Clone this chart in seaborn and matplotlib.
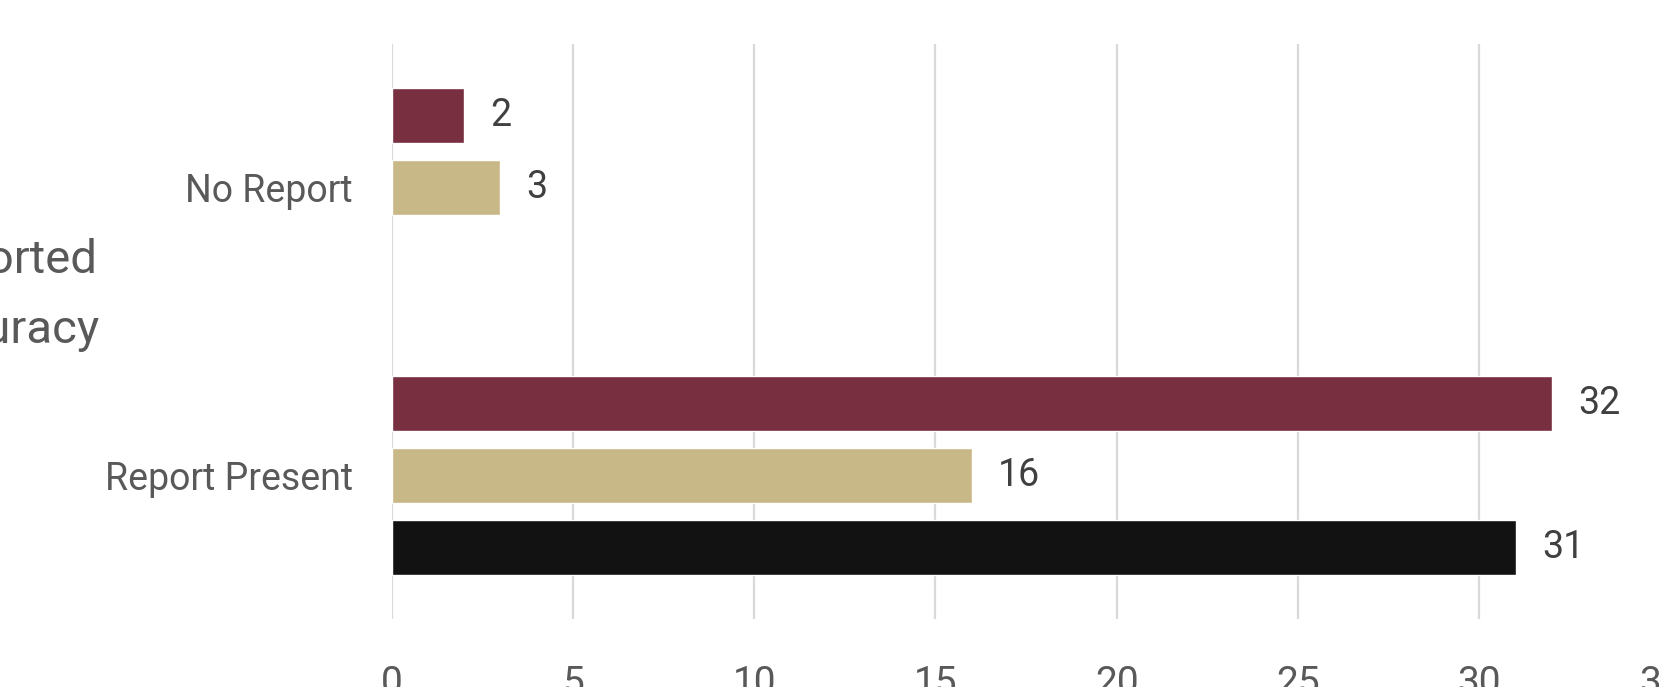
import numpy as np
import pandas as pd
import matplotlib
matplotlib.use("Agg")
import matplotlib.pyplot as plt
import seaborn as sns

categories = ["No Report", "Report Present"]
series_names = ["Series 1", "Series 2", "Series 3"]
series1 = [2, 32]
series2 = [3, 16]
series3 = [np.nan, 31]
colors = ["#782F40", "#C9B887", "#121212"]
x_ticks = [0, 5, 10, 15, 20, 25, 30, 35]
y_title = "Reported\nAccuracy"

rows = []
for name, vals in zip(series_names, [series1, series2, series3]):
    for c, v in zip(categories, vals):
        rows.append({"category": c, "series": name, "value": v})
df = pd.DataFrame(rows).dropna()

sns.set_theme(style="white")
plt.rcParams["font.family"] = ["Roboto", "DejaVu Sans"]

fig = plt.figure(figsize=(16.59, 6.87), dpi=100)
ax = fig.add_axes([0.236, 0.099, 0.765, 0.837])

sns.barplot(data=df, x="value", y="category", hue="series", order=categories,
            hue_order=series_names, palette=colors, orient="h", width=0.75,
            gap=0.235, ax=ax, legend=False, saturation=1)

for cont in ax.containers:
    ax.bar_label(cont, fmt="%g", padding=19, fontsize=27, color="#404040")

ax.set_xlim(0, 35)
ax.set_ylim(1.5, -0.5)
ax.set_xticks(x_ticks)
ax.grid(axis="x", color="#D9D9D9", linewidth=1.6)
ax.set_axisbelow(True)
for s in ax.spines.values():
    s.set_visible(False)
ax.tick_params(axis="x", length=0, pad=33, labelsize=28, labelcolor="#595959")
ax.tick_params(axis="y", length=0, pad=28, labelsize=27, labelcolor="#595959")
ax.set_xlabel("")
ax.set_ylabel(y_title, rotation=0, fontsize=34, color="#595959",
              ha="center", va="center", multialignment="center", linespacing=1.75)
ax.yaxis.set_label_coords(-0.307, 0.563)

fig.savefig("out.png", dpi=100)
